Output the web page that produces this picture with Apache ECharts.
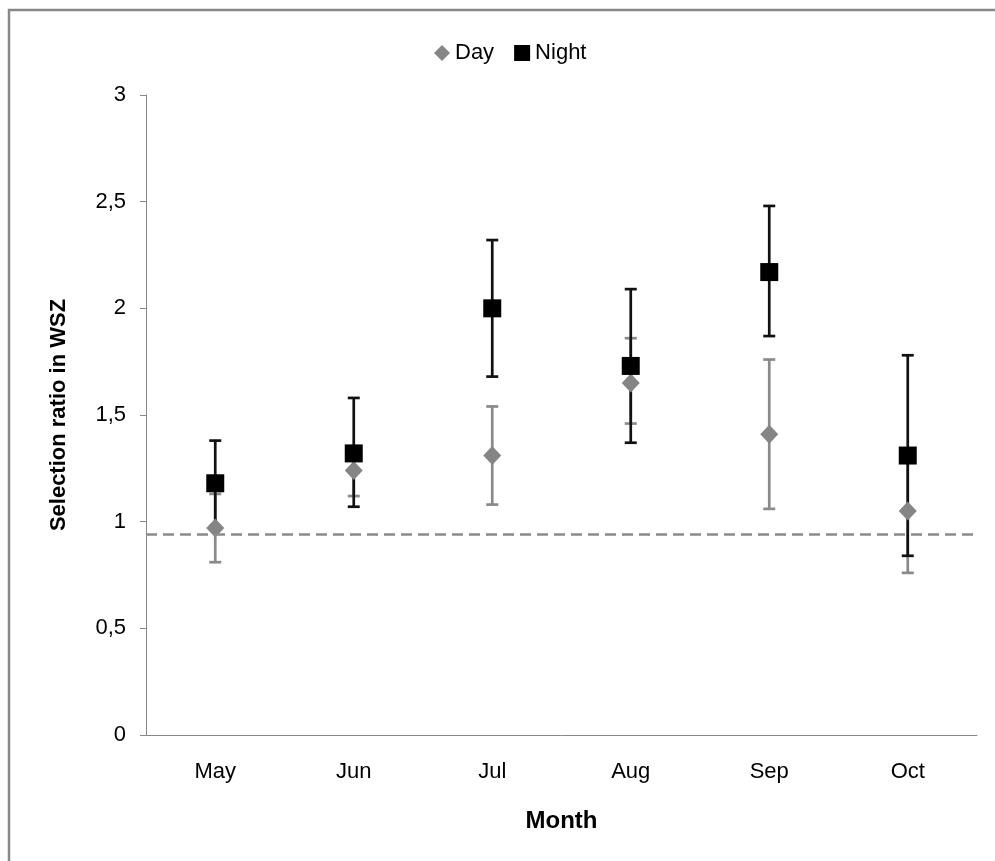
<!DOCTYPE html>
<html>
<head>
<meta charset="utf-8">
<script src="https://cdn.jsdelivr.net/npm/echarts@6/dist/echarts.min.js"></script>
<style>
  html, body { margin: 0; padding: 0; background: #fff; }
  #chart { width: 995px; height: 861px; }
</style>
</head>
<body>
<div id="chart"></div>
<script>
// values
const months = ['May', 'Jun', 'Jul', 'Aug', 'Sep', 'Oct'];
const dayMean = [0.97, 1.24, 1.31, 1.65, 1.41, 1.05];
const dayLow = [0.81, 1.12, 1.08, 1.46, 1.06, 0.76];
const dayHigh = [1.13, 1.35, 1.54, 1.86, 1.76, 1.34];
const nightMean = [1.18, 1.32, 2.0, 1.73, 2.17, 1.31];
const nightLow = [0.97, 1.07, 1.68, 1.37, 1.87, 0.84];
const nightHigh = [1.38, 1.58, 2.32, 2.09, 2.48, 1.78];
const refLine = 0.945;

const gray = '#858585';
const font = '"Liberation Sans", Arial, sans-serif';

// error bar renderer: vertical line + caps
const errorBars = (color) => (params, api) => {
  const low = api.coord([api.value(0), api.value(1)]);
  const high = api.coord([api.value(0), api.value(2)]);
  const cap = 6;
  const style = { stroke: color, lineWidth: 2.7 };
  return {
    type: 'group',
    children: [
      { type: 'line', shape: { x1: low[0], y1: low[1], x2: high[0], y2: high[1] }, style },
      { type: 'line', shape: { x1: low[0] - cap, y1: low[1], x2: low[0] + cap, y2: low[1] }, style },
      { type: 'line', shape: { x1: high[0] - cap, y1: high[1], x2: high[0] + cap, y2: high[1] }, style }
    ]
  };
};

const chart = echarts.init(document.getElementById('chart'));

chart.setOption({
  animation: false,
  backgroundColor: '#fff',
  textStyle: { fontFamily: font },
  graphic: [{
    type: 'rect',
    shape: { x: 9, y: 10, width: 1100, height: 1000 },
    style: { fill: 'none', stroke: '#888', lineWidth: 2.5 },
    silent: true
  }],
  grid: { left: 146, right: 18, top: 95, bottom: 126 },
  legend: {
    top: 37,
    left: 429,
    itemGap: 20,
    itemWidth: 16,
    itemHeight: 16,
    textStyle: { fontSize: 22, color: '#000', fontFamily: font },
    data: [
      { name: 'Day', icon: 'diamond', itemStyle: { color: gray } },
      { name: 'Night', icon: 'rect', itemStyle: { color: '#000' } }
    ]
  },
  xAxis: {
    type: 'category',
    data: months,
    name: 'Month',
    nameLocation: 'middle',
    nameGap: 74,
    nameTextStyle: { fontSize: 24, fontWeight: 'bold', color: '#000' },
    axisLine: { lineStyle: { color: '#888', width: 1 } },
    axisTick: { length: 6, lineStyle: { color: '#888' } },
    axisLabel: { fontSize: 22, color: '#000', margin: 26 }
  },
  yAxis: {
    type: 'value',
    min: 0,
    max: 3,
    interval: 0.5,
    name: 'Selection ratio in WSZ',
    nameLocation: 'middle',
    nameGap: 76,
    nameTextStyle: { fontSize: 22, fontWeight: 'bold', color: '#000' },
    splitLine: { show: false },
    axisLine: { show: true, lineStyle: { color: '#888', width: 1 } },
    axisTick: { show: true, length: 6, lineStyle: { color: '#888' } },
    axisLabel: {
      fontSize: 22,
      color: '#000',
      margin: 20,
      formatter: (v) => String(v).replace('.', ',')
    }
  },
  series: [
    {
      name: 'DayErr',
      type: 'custom',
      z: 1,
      renderItem: errorBars('#8a8a8a'),
      encode: { x: 0, y: [1, 2] },
      data: months.map((m, i) => [i, dayLow[i], dayHigh[i]]),
      markLine: {
        silent: true,
        symbol: 'none',
        label: { show: false },
        lineStyle: { color: '#8a8a8a', width: 2.5, type: [11, 6] },
        data: [{ yAxis: refLine }]
      }
    },
    {
      name: 'NightErr',
      type: 'custom',
      z: 2,
      renderItem: errorBars('#111'),
      encode: { x: 0, y: [1, 2] },
      data: months.map((m, i) => [i, nightLow[i], nightHigh[i]])
    },
    {
      name: 'Day',
      type: 'scatter',
      z: 3,
      symbol: 'diamond',
      symbolSize: [18, 19],
      itemStyle: { color: gray, opacity: 1 },
      data: dayMean
    },
    {
      name: 'Night',
      type: 'scatter',
      z: 4,
      symbol: 'rect',
      symbolSize: 18,
      itemStyle: { color: '#000', opacity: 1 },
      data: nightMean
    }
  ]
});
</script>
</body>
</html>
